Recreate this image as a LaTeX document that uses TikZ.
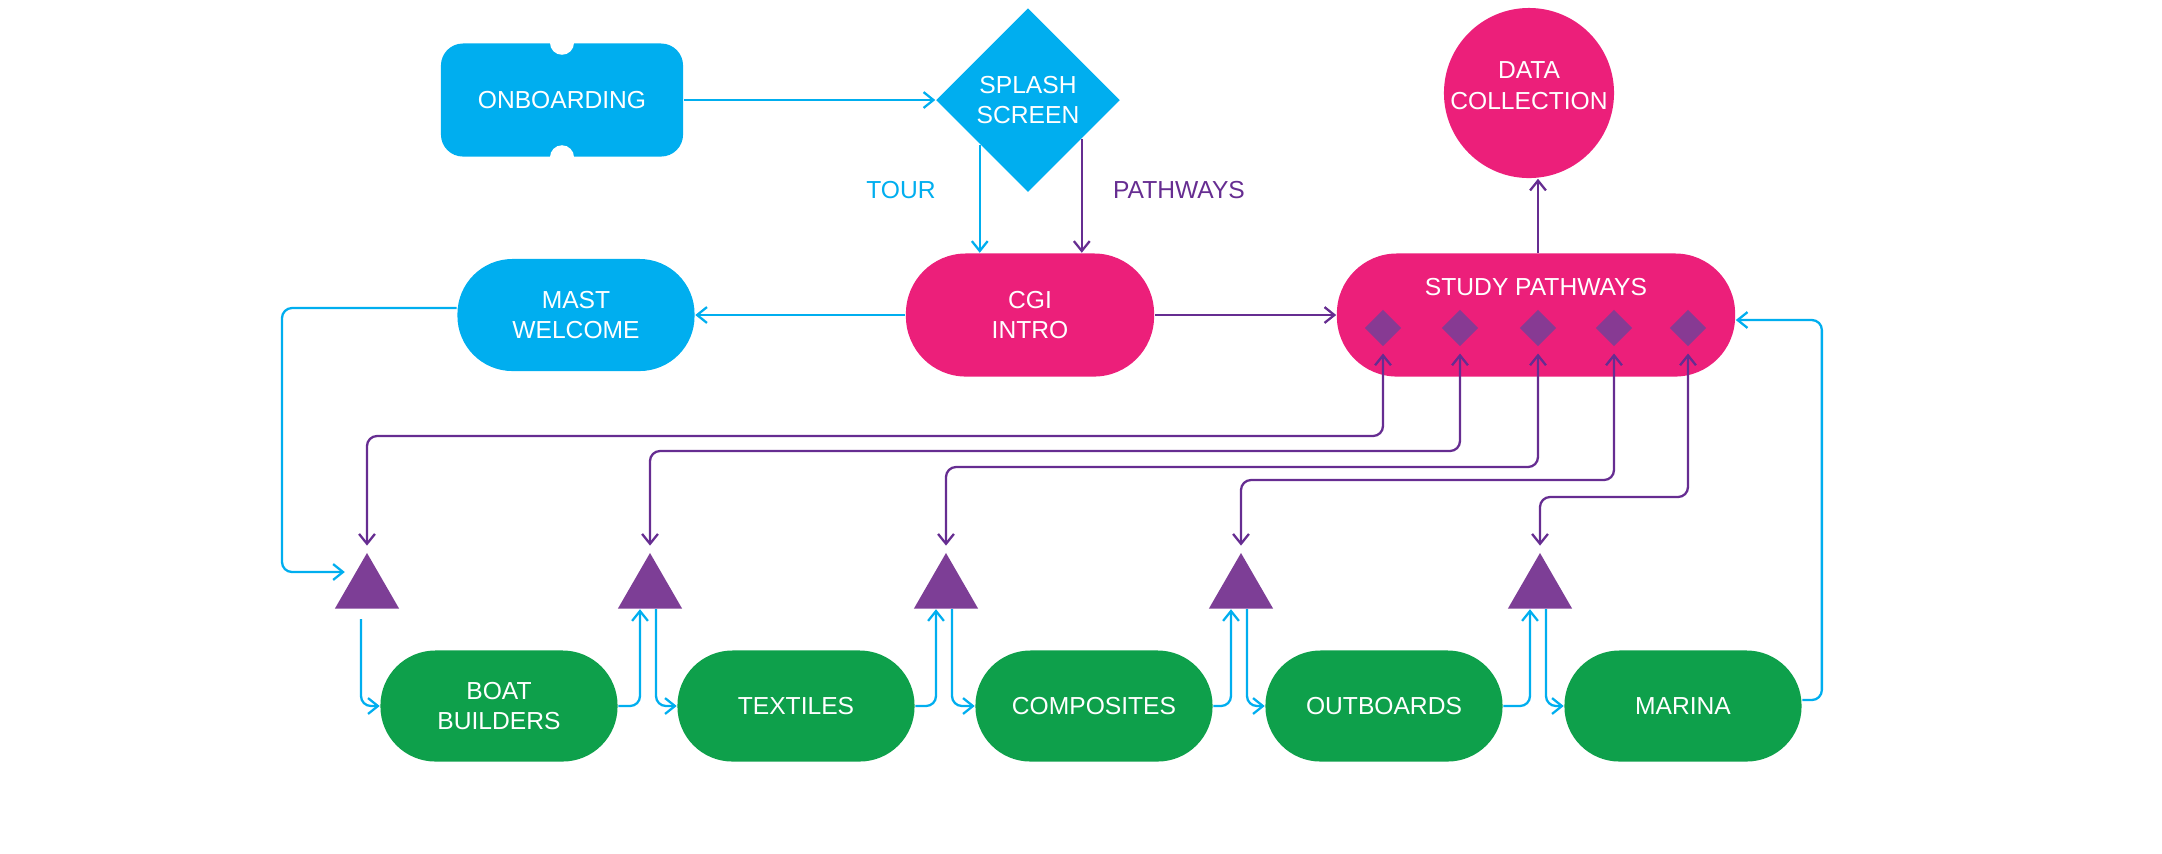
\documentclass[tikz,border=0pt]{standalone}
\usepackage{fontspec}
\setmainfont{Liberation Sans}
\usetikzlibrary{arrows.meta, positioning, shapes.geometric, calc}
\definecolor{mastblue}{HTML}{00AEEF}
\definecolor{mastpink}{HTML}{EC1F7A}
\definecolor{mastgreen}{HTML}{0EA04B}
\definecolor{mastpurple}{HTML}{7D3E96}
\definecolor{linepurple}{HTML}{662D91}

\begin{document}
\begin{tikzpicture}[x=0.01cm, y=-0.01cm,
    font=\fontsize{7}{8.8}\selectfont,
    pill/.style={fill=#1, text=white, align=center, rounded corners=0.55cm,
                 minimum width=2.37cm, minimum height=1.11cm, inner sep=0pt},
    tri/.style={regular polygon, regular polygon sides=3, fill=mastpurple,
                minimum size=0.74cm, inner sep=0pt},
    gem/.style={diamond, fill=mastpurple, minimum size=0.37cm, inner sep=0pt},
    flow/.style={draw=#1, line width=0.65pt, rounded corners=0.1cm,
                 -{Straight Barb[length=2.8pt, width=4.5pt]}},
    link/.style={flow=linepurple,
                 {Straight Barb[length=2.8pt, width=4.5pt]}-{Straight Barb[length=2.8pt, width=4.5pt]},
                 shorten <=1.8pt, shorten >=1.7pt},
]
    \useasboundingbox (0,0) rectangle (2162,853);

    % Top row
    \node[fill=mastblue, text=white, rounded corners=0.22cm,
          minimum width=2.42cm, minimum height=1.13cm] (onb) at (562,100) {ONBOARDING};
    \fill[white] (onb.north) circle[radius=0.12cm];
    \fill[white] (onb.south) circle[radius=0.12cm];
    \node[diamond, fill=mastblue, text=white, align=center,
          minimum size=1.84cm, inner sep=0pt] (splash) at (1028,100) {SPLASH\\SCREEN};
    \node[circle, fill=mastpink, minimum size=1.70cm, inner sep=0pt] (data) at (1529,93) {};
    \node[text=white, align=center] (datalbl) at (1529,86) {DATA\\COLLECTION};
    \node[text=mastblue] (tour) at (901,190) {TOUR};
    \node[text=linepurple] (pathways) at (1179,190) {PATHWAYS};

    % Middle row
    \node[pill=mastblue, minimum height=1.12cm] (mast) at (576,315) {MAST\\WELCOME};
    \node[pill=mastpink, minimum width=2.48cm, minimum height=1.23cm,
          rounded corners=0.6cm] (cgi) at (1030,315) {CGI\\INTRO};
    \node[pill=mastpink, minimum width=3.98cm, minimum height=1.23cm,
          rounded corners=0.6cm] (study) at (1536,315) {};
    \node[text=white] (studylbl) at (1536,287) {STUDY PATHWAYS};
    \foreach \x [count=\i] in {1383,1460,1538,1614,1688}
        \node[gem, fill opacity=0.9] (gem\i) at (\x,328) {};

    % Bottom row
    \foreach \x [count=\i] in {367,650,946,1241,1540}
        \node[tri] (tri\i) at (\x,590) {};
    \foreach \x/\txt [count=\i] in {499/{BOAT\\BUILDERS}, 796/TEXTILES,
            1094/COMPOSITES, 1384/OUTBOARDS, 1683/MARINA}
        \node[pill=mastgreen] (box\i) at (\x,706) {\txt};

    % Arrows
    \coordinate (tourtop) at ($(splash.west)!0.48!(splash.south)$);
    \coordinate (pathtop) at ($(splash.south)!0.58!(splash.east)$);
    \draw[flow=mastblue] (onb.east) -- (splash.west);
    \draw[flow=mastblue] (tourtop) -- (tourtop |- cgi.north);
    \draw[flow=linepurple] (pathtop) -- (pathtop |- cgi.north);
    \draw[flow=mastblue] (cgi.west) -- (mast.east);
    \draw[flow=linepurple] (cgi.east) -- (study.west);
    \draw[flow=linepurple] (gem3 |- study.north) -- (gem3 |- data.south);
    \draw[flow=mastblue] ([yshift=0.07cm]mast.west) -| (282,572)
        -- ([yshift=0.18cm]tri1.west);
    \foreach \i/\y in {1/436, 2/451, 3/467, 4/480, 5/497}
        \draw[link] (gem\i.south) |- (tri\i.north |- 0,\y) -- (tri\i.north);
    \draw[flow=mastblue] ([xshift=-0.06cm, yshift=-0.1cm]tri1.south) |- (box1.west);
    \foreach \i/\j in {1/2, 2/3, 3/4, 4/5} {
        \draw[flow=mastblue] (box\i.east) -| ([xshift=-0.1cm]tri\j.south);
        \draw[flow=mastblue] ([xshift=0.06cm]tri\j.south) |- (box\j.west);
    }
    \draw[flow=mastblue] ([yshift=0.06cm]box5.east)
        -| ([xshift=0.86cm, yshift=-0.05cm]study.east) -- ([yshift=-0.05cm]study.east);
\end{tikzpicture}
\end{document}
